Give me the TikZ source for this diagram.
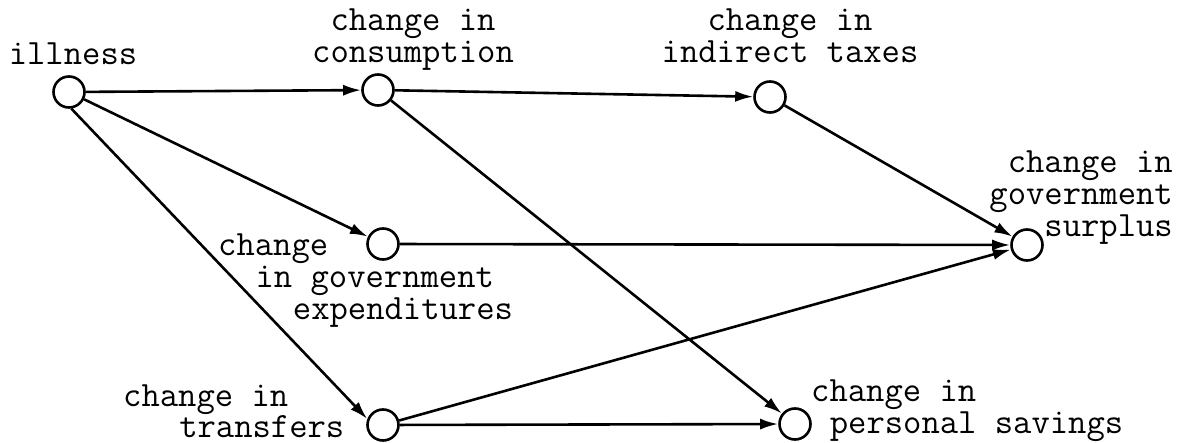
\documentclass[tikz,border=0pt]{standalone}
\usepackage{fontspec}
\usetikzlibrary{arrows.meta}

\begin{document}
\begin{tikzpicture}[x=1pt,y=-1pt,
  var/.style={circle,draw,line width=2.6pt,minimum size=31pt,inner sep=0pt},
  lbl/.style={font=\ttfamily\fontsize{35.6}{32}\selectfont,inner sep=0pt},
  link/.style={draw,line width=2.6pt,-{Latex[length=18pt,width=11pt]}}
]
\useasboundingbox (0,0) rectangle (1178,443);

\node[var] (ill) at (69,92) {};
\node[var] (cons) at (378,90) {};
\node[var] (tax) at (770,97) {};
\node[var] (gov) at (383,244) {};
\node[var] (sur) at (1027,245) {};
\node[var] (tra) at (383,425) {};
\node[var] (sav) at (795,424) {};

% labels, base = last line
\node[lbl,anchor=base] (lblill) at (73,65) {illness};
\node[lbl,anchor=base,align=center] (lblcons) at (413,63) {change in\\consumption};
\node[lbl,anchor=base,align=center] (lbltax) at (790,63) {change in\\indirect taxes};
\node[lbl,anchor=base east,align=right] (lblsur) at (1173,237) {change in\\government\\surplus};
\node[lbl,anchor=base west,align=left] (lblgov) at (218,320) {change\\\hspace*{1.05em}in government\\\hspace*{2.1em}expenditures};
\node[lbl,anchor=base west,align=left] (lbltra) at (123,438) {change in\\\hspace*{1.575em}transfers};
\node[lbl,anchor=base west,align=left] (lblsav) at (811,433) {change in\\\hspace*{0.525em}personal savings};

\draw[link] (ill) -- (cons);
\draw[link] (ill) -- (gov);
\draw[link] (ill.-82) -- (tra.159);
\draw[link] (cons) -- (tax);
\draw[link] (cons) -- (sav);
\draw[link] (tax) -- (sur);
\draw[link] (gov) -- (sur);
\draw[link] (tra) -- (sur);
\draw[link] (tra) -- (sav);
\end{tikzpicture}
\end{document}
